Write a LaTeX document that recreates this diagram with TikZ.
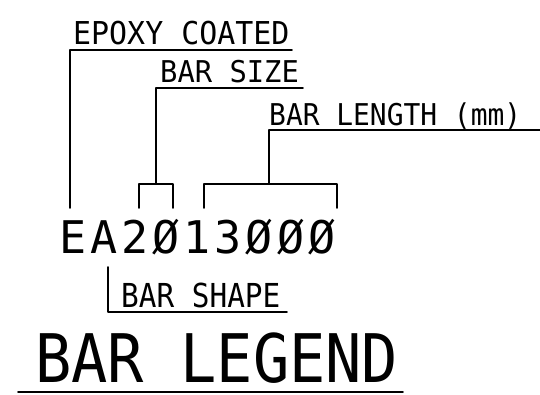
\documentclass[tikz,border=0pt]{standalone}
\usepackage{fontspec}
\newfontfamily\cadfont{DejaVu Sans Mono}
\newcommand\cadsize[2]{\cadfont\fontsize{#1}{#1}\selectfont\addfontfeatures{FakeStretch=#2}}
\tikzset{
  every picture/.style={line join=round, line cap=round},
  leader/.style={line width=1.6pt},
  cadlabel/.style={inner sep=0pt, anchor=base west, text depth=0pt},
}

\begin{document}
\begin{tikzpicture}[x=1pt,y=-1pt]
\useasboundingbox (0,0) rectangle (540,394);
% labels
\node[cadlabel] (epoxy) at (73,44) {\cadsize{31.5}{0.95}EPOXY COATED};
\node[cadlabel] (size) at (160,82) {\cadsize{30}{0.96}BAR SIZE};
\node[cadlabel] (length) at (269,125) {\cadsize{30}{0.93}BAR LENGTH (mm)};
\node[cadlabel] (code) at (59,253) {\cadsize{45}{1}\addfontfeatures{LetterSpace=9}EA2Ø13ØØØ};
\node[cadlabel] (shape) at (121,307) {\cadsize{33}{0.89}BAR SHAPE};
\node[cadlabel] (legend) at (35,382) {\cadsize{67}{0.9}BAR LEGEND};
% leader ends
\coordinate (epoxyend) at (292,50);
\coordinate (sizeend) at (303,88);
\coordinate (lengthend) at (540,130);
\coordinate (shapeend) at (287,312);
\coordinate (eA) at (70,208);
\coordinate (sA) at (139,208);
\coordinate (sB) at (173,208);
\coordinate (sM) at (156,184);
\coordinate (lA) at (204,208);
\coordinate (lB) at (337,208);
\coordinate (lM) at (269,184);
\coordinate (shA) at (108,267);
% leaders
\draw[leader] (eA) |- (epoxyend);
\draw[leader] (sA) |- (sM) -| (sB);
\draw[leader] (sM) |- (sizeend);
\draw[leader] (lA) |- (lM) -| (lB);
\draw[leader] (lM) |- (lengthend);
\draw[leader] (shA) |- (shapeend);
\draw[leader] (18,392) -- (403,392);
\end{tikzpicture}
\end{document}
